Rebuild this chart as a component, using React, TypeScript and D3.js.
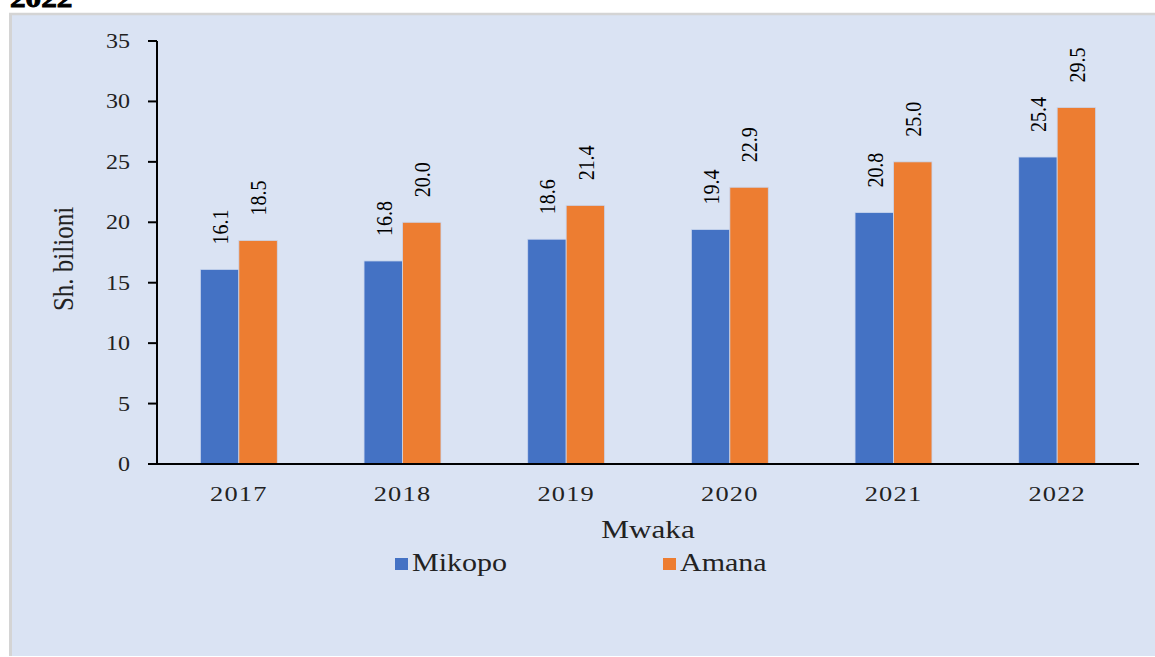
import React from "react";
import * as d3 from "d3";

const years = ["2017", "2018", "2019", "2020", "2021", "2022"];
const mikopo = [16.1, 16.8, 18.6, 19.4, 20.8, 25.4];
const amana = [18.5, 20.0, 21.4, 22.9, 25.0, 29.5];
const seriesNames = ["Mikopo", "Amana"];
const seriesColors = ["#4472c4", "#ed7d31"];
const yTicks = [0, 5, 10, 15, 20, 25, 30, 35];

const W = 1155;
const H = 657;
const FONT = "Liberation Serif, Times New Roman, serif";
const SX = 1.2;

export default function App() {
  const x = d3.scaleBand<string>().domain(years).range([157, 1139]).paddingInner(0.53).paddingOuter(0.265);
  const xs = d3.scaleBand<string>().domain(seriesNames).range([0, x.bandwidth()]);
  const y = d3.scaleLinear().domain([0, 35]).range([464, 41]);
  const data = [mikopo, amana];

  const T = (px: number, py: number, rot = 0) =>
    `translate(${px},${py}) scale(${SX},1)${rot ? ` rotate(${rot})` : ""}`;
  const fs = (size: number, extra: React.CSSProperties = {}) => ({ fontFamily: FONT, fontSize: size, ...extra });

  return (
    <svg width={W} height={H} style={{ position: "fixed", left: 0, top: 0, background: "#fff" }}>
      <rect x={9} y={13} width={W} height={643} fill="#dae3f3" />
      <line x1={10.5} x2={10.5} y1={13} y2={656} stroke="#d4d4d4" strokeWidth={3} />
      <line x1={9} x2={W} y1={14} y2={14} stroke="#d4d4d4" strokeWidth={2.5} />
      <text transform={T(10, 7)} style={fs(26, { fontWeight: "bold" })} fill="#000" stroke="#000" strokeWidth={0.9}>2022</text>

      {years.map((yr, i) =>
        data.map((s, j) => {
          const bx = (x(yr) as number) + (xs(seriesNames[j]) as number);
          const bw = xs.bandwidth();
          return (
            <g key={yr + j}>
              <rect x={bx} y={y(s[i])} width={bw} height={y(0) - y(s[i])} fill={seriesColors[j]} stroke="#c9d6ee" strokeWidth={0.8} />
              <text transform={T(bx + bw / 2, y(s[i]) - 25, -90)} dy="0.35em" style={fs(20)} fill="#000">
                {s[i].toFixed(1)}
              </text>
            </g>
          );
        })
      )}

      <line x1={157} x2={157} y1={y(35)} y2={y(0)} stroke="#000" strokeWidth={2} />
      <line x1={148} x2={1139} y1={y(0)} y2={y(0)} stroke="#000" strokeWidth={2} />
      {yTicks.map((t) => (
        <g key={t}>
          <line x1={148} x2={157} y1={y(t)} y2={y(t)} stroke="#000" strokeWidth={2} />
          <text transform={T(130, y(t))} dy="0.35em" textAnchor="end" style={fs(20)} fill="#222">
            {t}
          </text>
        </g>
      ))}
      {years.map((yr) => (
        <text key={yr} transform={T((x(yr) as number) + x.bandwidth() / 2, 501)} textAnchor="middle" style={fs(22, { letterSpacing: 1 })} fill="#222">
          {yr}
        </text>
      ))}
      <text transform={T(648, 538)} textAnchor="middle" style={fs(26)} fill="#222">Mwaka</text>
      <text transform={T(62, 259, -90)} dy="0.35em" textAnchor="middle" style={fs(25)} fill="#222">Sh. bilioni</text>

      {seriesNames.map((n, j) => {
        const lx = [395, 663][j];
        return (
          <g key={n}>
            <rect x={lx} y={558} width={13} height={12} fill={seriesColors[j]} />
            <text transform={T(lx + 17, 571)} style={fs(25)} fill="#222">{n}</text>
          </g>
        );
      })}
    </svg>
  );
}
